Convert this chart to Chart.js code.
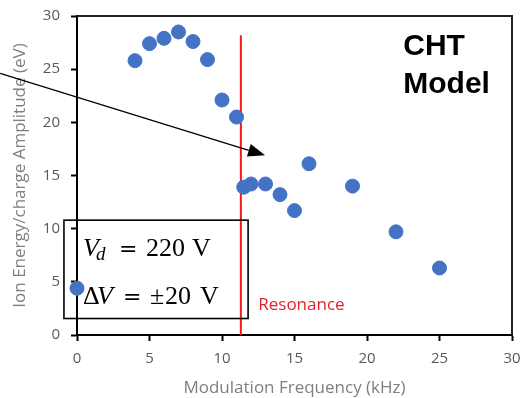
<!DOCTYPE html>
<html>
<head>
<meta charset="utf-8">
<script src="https://cdn.jsdelivr.net/npm/chart.js@4"></script>
<style>
  body { margin: 0; background: #fff; }
  canvas { display: block; }
</style>
</head>
<body>
<canvas id="chart" width="521" height="398"></canvas>
<script>
// Data
const freqKHz = [0, 4, 5, 6, 7, 8, 9, 10, 11, 11.5, 12, 13, 14, 15, 16, 19, 22, 25];
const amplitudeEV = [4.4, 25.8, 27.4, 27.9, 28.5, 27.6, 25.9, 22.1, 20.5, 13.9, 14.2, 14.2, 13.2, 11.7, 16.1, 14.0, 9.7, 6.3];
const resonanceX = [11.3, 11.3];
const resonanceY = [0, 28.2];
const axisTicks = [0, 5, 10, 15, 20, 25, 30];

const points = freqKHz.map((x, i) => ({ x: x, y: amplitudeEV[i] }));
const resonance = resonanceX.map((x, i) => ({ x: x, y: resonanceY[i] }));

// Annotation plugin: frame, arrow, labels, parameter box
const annotations = {
  id: "annotations",
  beforeDatasetsDraw(chart) {
    const { ctx, chartArea: a } = chart;
    ctx.save();
    ctx.strokeStyle = "#222";
    ctx.lineWidth = 2;
    ctx.beginPath();
    ctx.moveTo(a.left, a.top);
    ctx.lineTo(a.right, a.top);
    ctx.lineTo(a.right, a.bottom);
    ctx.stroke();
    ctx.restore();
  },
  afterDatasetsDraw(chart) {
    const { ctx } = chart;
    const xs = chart.scales.x;
    const ys = chart.scales.y;
    const px = v => xs.getPixelForValue(v);
    const py = v => ys.getPixelForValue(v);

    ctx.save();

    // arrow
    const x0 = px(-5.3), y0 = py(24.6);
    const x1 = px(12.97), y1 = py(16.9);
    const ang = Math.atan2(y1 - y0, x1 - x0);
    const headLen = 17, headW = 6.5;
    ctx.strokeStyle = "#000";
    ctx.fillStyle = "#000";
    ctx.lineWidth = 1.3;
    ctx.beginPath();
    ctx.moveTo(x0, y0);
    ctx.lineTo(x1 - Math.cos(ang) * headLen, y1 - Math.sin(ang) * headLen);
    ctx.stroke();
    ctx.beginPath();
    ctx.moveTo(x1, y1);
    ctx.lineTo(x1 - Math.cos(ang) * headLen - Math.sin(ang) * headW, y1 - Math.sin(ang) * headLen + Math.cos(ang) * headW);
    ctx.lineTo(x1 - Math.cos(ang) * headLen + Math.sin(ang) * headW, y1 - Math.sin(ang) * headLen - Math.cos(ang) * headW);
    ctx.closePath();
    ctx.fill();

    // Resonance label
    ctx.fillStyle = "#e8202a";
    ctx.font = "17px 'Open Sans'";
    ctx.textBaseline = "middle";
    ctx.textAlign = "left";
    ctx.fillText("Resonance", px(12.5), py(2.8));

    // CHT Model
    ctx.fillStyle = "#000";
    ctx.font = "bold 30px 'Liberation Sans'";
    ctx.textBaseline = "alphabetic";
    ctx.fillText("CHT", px(22.5), py(26.3));
    ctx.fillText("Model", px(22.5), py(22.75));

    // parameter box
    ctx.strokeStyle = "#000";
    ctx.lineWidth = 1.6;
    const bx0 = px(-0.9), bx1 = px(11.8), by0 = py(10.8), by1 = py(1.55);
    ctx.strokeRect(bx0, by0, bx1 - bx0, by1 - by0);

    // math text, token offsets in px from the text start
    const serif = "'Liberation Serif'";
    const big = "26px " + serif, bigIt = "italic 26px " + serif, sub = "italic 19px " + serif;
    const eq = "22px 'DejaVu Serif'";
    const line1 = [["V", bigIt, 0, 0], ["d", sub, 13, 4], ["=", eq, 36, 0], ["220", big, 63, 0], ["V", big, 109, 0]];
    const line2 = [["\u0394", big, 0, 0], ["V", bigIt, 14, 0], ["=", eq, 40, 0], ["\u00b1", big, 67, 0], ["20", big, 82, 0], ["V", big, 117, 0]];
    const drawTokens = (tokens, x, y) => {
      tokens.forEach(t => {
        ctx.font = t[1];
        ctx.fillText(t[0], x + t[2], y + t[3]);
      });
    };
    const tx = bx0 + 19;
    drawTokens(line1, tx, py(7.45));
    drawTokens(line2, tx, py(2.95));

    ctx.restore();
  }
};

const ctx = document.getElementById("chart").getContext("2d");
const chart = new Chart(ctx, {
  type: "scatter",
  data: {
    datasets: [
      {
        label: "CHT Model",
        data: points,
        backgroundColor: "#4472C4",
        borderColor: "#4472C4",
        pointRadius: 7,
        pointHoverRadius: 7,
        clip: false
      },
      {
        label: "Resonance",
        data: resonance,
        showLine: true,
        borderColor: "#f01c1c",
        borderWidth: 2,
        pointRadius: 0
      }
    ]
  },
  options: {
    responsive: false,
    animation: false,
    events: [],
    layout: { padding: { top: 16, right: 9, left: 0, bottom: 0 } },
    plugins: {
      legend: { display: false },
      tooltip: { enabled: false }
    },
    scales: {
      x: {
        type: "linear",
        min: 0,
        max: 30,
        afterBuildTicks: s => { s.ticks = axisTicks.map(v => ({ value: v })); },
        afterFit: s => { s.height = 63; s.paddingLeft = 0; s.paddingRight = 0; },
        ticks: { color: "#595959", font: { family: "'Open Sans'", size: 15 }, padding: 9 },
        grid: { drawOnChartArea: false, color: "#000", tickLength: 6, tickWidth: 2 },
        border: { color: "#000", width: 2 },
        title: {
          display: true,
          text: "Modulation Frequency (kHz)",
          color: "#7f7f7f",
          font: { family: "'Open Sans'", size: 17 },
          padding: { top: 0, bottom: 0 }
        }
      },
      y: {
        min: 0,
        max: 30,
        afterBuildTicks: s => { s.ticks = axisTicks.map(v => ({ value: v })); },
        afterFit: s => { s.width = 77; s.paddingTop = 0; s.paddingBottom = 0; },
        ticks: { color: "#595959", font: { family: "'Open Sans'", size: 15 }, padding: 11 },
        grid: { drawOnChartArea: false, color: "#000", tickLength: 6, tickWidth: 2 },
        border: { color: "#000", width: 2 },
        title: {
          display: true,
          text: "Ion Energy/charge Amplitude (eV)",
          color: "#7f7f7f",
          font: { family: "'Open Sans'", size: 17 },
          padding: { top: 10, bottom: 0 }
        }
      }
    }
  },
  plugins: [annotations]
});
</script>
</body>
</html>
